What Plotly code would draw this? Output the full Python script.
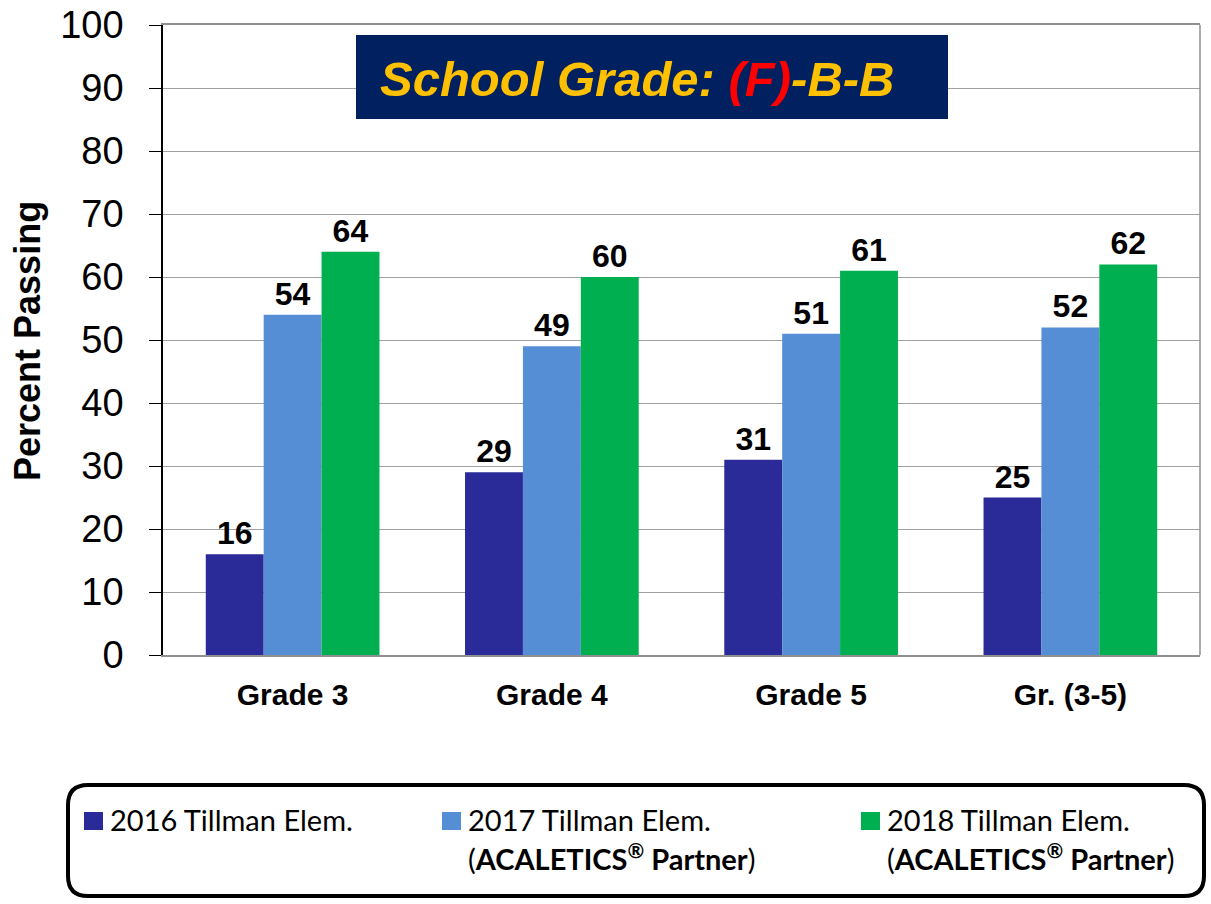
import plotly.graph_objects as go

categories = ["Grade 3", "Grade 4", "Grade 5", "Gr. (3-5)"]
series_names = ["2016 Tillman Elem.", "2017 Tillman Elem.", "2018 Tillman Elem."]
values_2016 = [16, 29, 31, 25]
values_2017 = [54, 49, 51, 52]
values_2018 = [64, 60, 61, 62]
colors = ["#2A2A98", "#558ED5", "#00B050"]
y_ticks = [0, 10, 20, 30, 40, 50, 60, 70, 80, 90, 100]

fig = go.Figure()
for name, vals, col in zip(series_names, [values_2016, values_2017, values_2018], colors):
    fig.add_trace(go.Bar(
        x=categories, y=vals, name=name, marker=dict(color=col, line=dict(width=0)),
        text=[str(v) for v in vals], textposition="outside", cliponaxis=False,
        textfont=dict(family="Liberation Sans, Arial", size=32, color="black"),
        texttemplate="<b>%{text}</b>",
    ))

# plot area in page coords: x 163..1200, y 25..655
fig.update_layout(
    width=1211, height=904,
    margin=dict(l=163, r=11, t=25, b=249, autoexpand=False),
    paper_bgcolor="white", plot_bgcolor="white",
    barmode="group", bargap=0.33, bargroupgap=0,
    showlegend=False,
    font=dict(family="Liberation Sans, Arial", color="black"),
)
fig.update_yaxes(
    range=[0, 100], tickvals=y_ticks, ticks="outside", ticklen=12, tickcolor="black",
    showline=True, linecolor="black", linewidth=1.5,
    showgrid=True, gridcolor="#A0A0A0", gridwidth=1,
    tickfont=dict(size=38, family="Liberation Sans, Arial"),
    ticklabelstandoff=18, automargin=False,
    zeroline=False,
)
fig.update_xaxes(
    showline=True, linecolor="#909090", linewidth=1.5, mirror=True,
    ticks="", tickfont=dict(size=30, family="Liberation Sans, Arial"),
    tickvals=categories, ticktext=[f"<b>{c}</b>" for c in categories],
    ticklabelstandoff=12, automargin=False,
)
fig.add_shape(type="line", xref="paper", yref="paper", x0=1, x1=1, y0=0, y1=1,
              line=dict(color="#909090", width=1.5))


def px(x):
    return (x - 163) / 1037


def py(y):
    return (655 - y) / 630


# y-axis title
fig.add_annotation(xref="paper", yref="paper", x=px(27), y=py(341),
                   xanchor="center", yanchor="middle", showarrow=False, textangle=-90,
                   text="<b>Percent Passing</b>",
                   font=dict(size=36, family="Liberation Sans, Arial", color="black"))

# grade banner
fig.add_shape(type="rect", xref="paper", yref="paper",
              x0=px(356), x1=px(948), y0=py(119), y1=py(35),
              fillcolor="#002060", line=dict(width=0), layer="above")
fig.add_annotation(
    xref="paper", yref="paper", x=px(378), y=py(79),
    xanchor="left", yanchor="middle", showarrow=False,
    text="<b><i><span style='color:#FFC000'>School Grade: </span>"
         "<span style='color:#FF0000'>(F)</span>"
         "<span style='color:#FFC000'>-B-B</span></i></b>",
    font=dict(size=49, family="Liberation Sans, Arial"),
)

# legend box
x0, x1, y0, y1, r = 68, 1204, 785, 896, 20
path = (f"M {px(x0 + r)},{py(y0)} L {px(x1 - r)},{py(y0)} "
        f"Q {px(x1)},{py(y0)} {px(x1)},{py(y0 + r)} L {px(x1)},{py(y1 - r)} "
        f"Q {px(x1)},{py(y1)} {px(x1 - r)},{py(y1)} L {px(x0 + r)},{py(y1)} "
        f"Q {px(x0)},{py(y1)} {px(x0)},{py(y1 - r)} L {px(x0)},{py(y0 + r)} "
        f"Q {px(x0)},{py(y0)} {px(x0 + r)},{py(y0)} Z")
fig.add_shape(type="path", xref="paper", yref="paper", path=path,
              line=dict(color="black", width=4), fillcolor="rgba(0,0,0,0)")

legend_sq_x = [84, 442, 861]
legend_sub = ["", "(<b>ACALETICS<sup>®</sup> Partner</b>)", "(<b>ACALETICS<sup>®</sup> Partner</b>)"]
for name, col, sx, sub in zip(series_names, colors, legend_sq_x, legend_sub):
    fig.add_shape(type="rect", xref="paper", yref="paper",
                  x0=px(sx), x1=px(sx + 19), y0=py(830), y1=py(812),
                  fillcolor=col, line=dict(width=0))
    fig.add_annotation(xref="paper", yref="paper", x=px(sx + 24), y=py(819),
                       xanchor="left", yanchor="middle", showarrow=False,
                       text=name, font=dict(size=29, family="Lato, sans-serif", color="black"))
    if sub:
        fig.add_annotation(xref="paper", yref="paper", x=px(sx + 24), y=py(857),
                           xanchor="left", yanchor="middle", showarrow=False,
                           text=sub, font=dict(size=29, family="Lato, sans-serif", color="black"))

fig.write_html("out.html", config={"displayModeBar": False},
               post_script="document.body.style.margin='0';document.body.style.padding='0';")
